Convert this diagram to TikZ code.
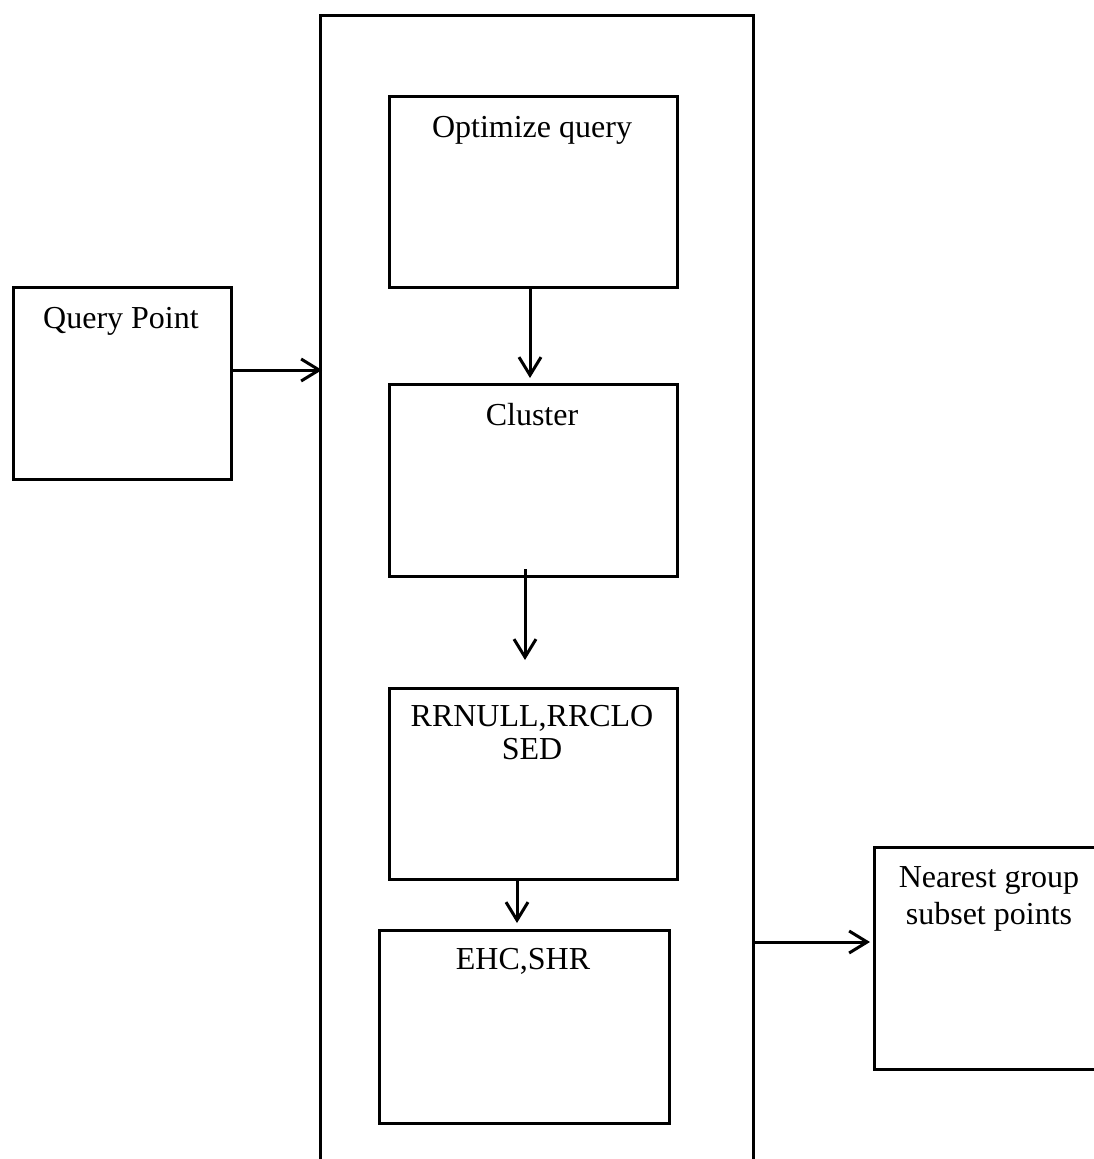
\documentclass[tikz,border=0pt]{standalone}
\usepackage{fontspec}
\setmainfont{Liberation Serif}
\usetikzlibrary{arrows.meta,calc}
\begin{document}
\begin{tikzpicture}[x=1pt,y=-1pt,
  box/.style={draw,line width=3pt,inner sep=0pt,anchor=north west},
  txt/.style={anchor=base,inner sep=0pt,font=\fontsize{32}{33}\selectfont},
  flow/.style={line width=3pt,-{Straight Barb[length=18pt,width=22pt,line width=3pt]}}]
\useasboundingbox (0,0) rectangle (1094,1159);
\clip (0,0) rectangle (1094,1159);
\fill[white] (0,0) rectangle (1094,1159);
% outer frame
\node[box,minimum width=433pt,minimum height=1160pt] (big) at (319,14) {};
% inner boxes
\node[box,minimum width=288pt,minimum height=191pt] (opt) at (388,95) {};
\node[box,minimum width=288pt,minimum height=192pt] (clu) at (388,383) {};
\node[box,minimum width=288pt,minimum height=191pt] (rr) at (388,687) {};
\node[box,minimum width=290pt,minimum height=193pt] (ehc) at (378,929) {};
\node[box,minimum width=218pt,minimum height=192pt] (qp) at (12,286) {};
\node[box,minimum width=232pt,minimum height=222pt] (ng) at (873,846) {};
% texts
\node[txt] (toptim) at (532,137) {Optimize query};
\node[txt] (tclu) at (532,425) {Cluster};
\node[txt] (trr1) at (532,726) {RRNULL,RRCLO};
\node[txt] (trr2) at (532,759) {SED};
\node[txt] (tehc) at (523,969) {EHC,SHR};
\node[txt] (tqp) at (121,328) {Query Point};
\node[txt] (tng1) at (989,887) {Nearest group};
\node[txt] (tng2) at (989,924) {subset points};
% connector end points
\coordinate (a1s) at (530,286);
\coordinate (a1e) at (530,378);
\coordinate (a2s) at (525,569);
\coordinate (a2e) at (525,660);
\coordinate (a3s) at (517,879);
\coordinate (a3e) at (517,923);
\coordinate (qpe) at (qp.east |- 0,370);
\coordinate (bigl) at (322,370);
\coordinate (bigr) at (752,942);
\coordinate (nge) at (870,942);
% connectors
\draw[flow] (qpe) -- (bigl);
\draw[flow] (a1s) -- (a1e);
\draw[flow] (a2s) -- (a2e);
\draw[flow] (a3s) -- (a3e);
\draw[flow] (bigr) -- (nge);
\end{tikzpicture}
\end{document}
